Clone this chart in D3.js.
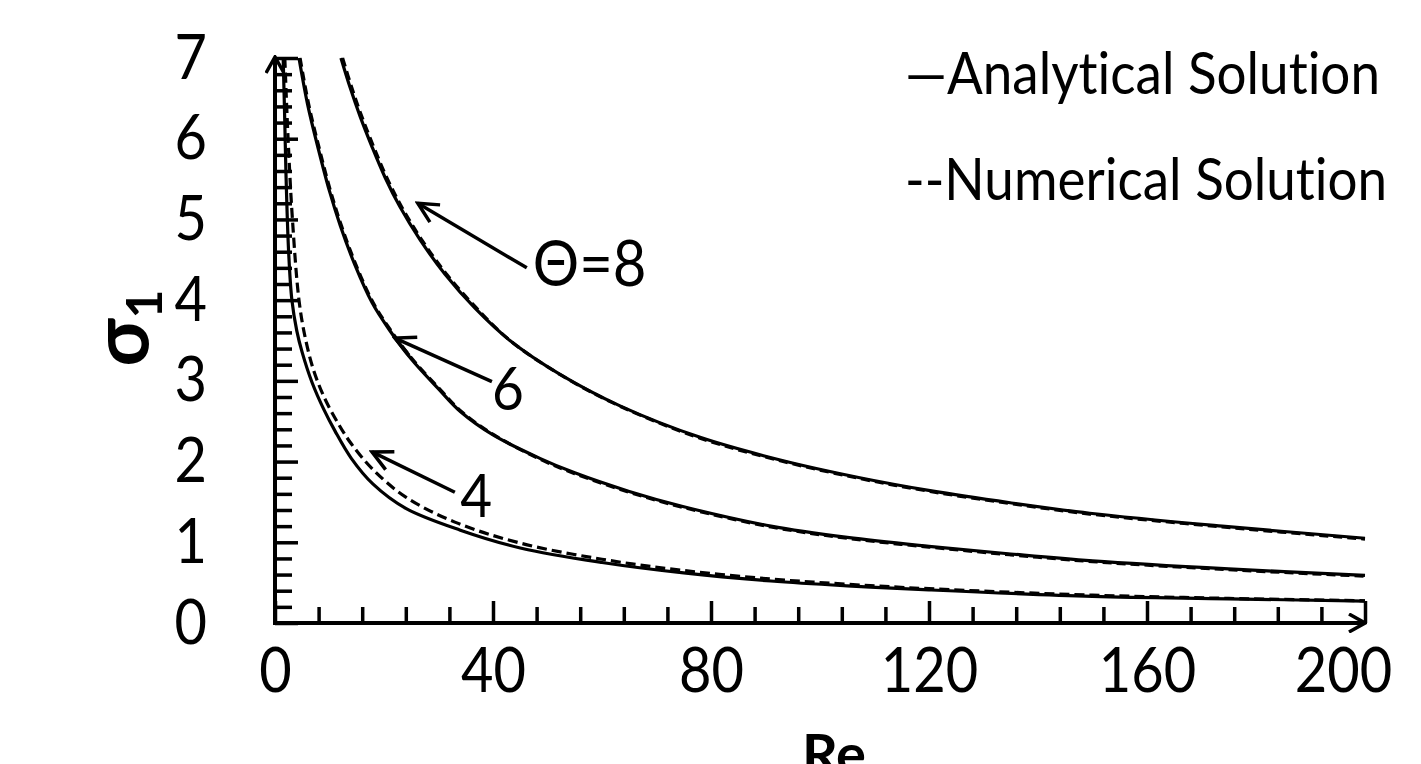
<!DOCTYPE html>
<html>
<head>
<meta charset="utf-8">
<script src="https://cdn.jsdelivr.net/npm/d3@7"></script>
<style>
  body { margin: 0; background: #fff; }
  svg text { font-family: Lato, "Noto Sans", sans-serif; fill: #000; font-variant-ligatures: none; font-feature-settings: "liga" 0; }
  .tall { transform-box: fill-box; transform-origin: center; transform: scaleY(1.1); }
</style>
</head>
<body>
<div id="chart"></div>
<script>
// values: sigma_1 against Re, one pair of series per Theta
var theta8Analytical = [[12.1,7.0],[13.8,6.63],[15.6,6.28],[17.8,5.9],[20.2,5.52],[22.9,5.16],[26.6,4.75],[31.2,4.32],[36.7,3.9],[43.1,3.5],[52.3,3.08],[63.3,2.69],[78,2.3],[92.7,2.02],[107.3,1.8],[120.2,1.64],[134.9,1.49],[149.5,1.36],[173.8,1.2],[200,1.05]];
var theta8Numerical  = [[12.4,7.0],[14.1,6.63],[15.9,6.28],[18.1,5.9],[20.5,5.52],[23.2,5.16],[26.9,4.75],[31.5,4.32],[37,3.9],[43.3,3.49],[52.5,3.07],[63.5,2.68],[78,2.29],[92.7,2.01],[107.3,1.79],[120.2,1.63],[134.9,1.48],[149.5,1.35],[173.8,1.19],[200,1.04]];

var theta6Analytical = [[4.4,7.0],[6,6.42],[8,5.86],[10,5.35],[12,4.92],[14.7,4.43],[17.8,3.97],[21,3.63],[25,3.27],[30,2.9],[34,2.62],[40,2.33],[48.6,2.04],[55,1.86],[65,1.63],[75,1.44],[91,1.2],[105,1.06],[120,0.95],[135,0.855],[150,0.77],[175,0.67],[200,0.59]];
var theta6Numerical  = [[4.6,7.0],[6.2,6.42],[8.2,5.86],[10.2,5.35],[12.2,4.92],[14.9,4.43],[18,3.97],[21.2,3.63],[25.2,3.27],[30.2,2.9],[34.2,2.62],[40.2,2.33],[48.6,2.03],[55,1.85],[65,1.62],[75,1.43],[91,1.19],[105,1.05],[120,0.94],[135,0.845],[150,0.76],[175,0.66],[200,0.58]];

var theta4Analytical = [[1.5,7.0],[1.8,6.2],[2.0,5.6],[2.5,4.6],[3.1,4.0],[4,3.62],[5,3.35],[6.8,2.98],[9,2.64],[11,2.38],[14,2.04],[18,1.72],[24,1.42],[34,1.15],[45,0.93],[60,0.75],[75,0.62],[91,0.52],[105,0.46],[120,0.41],[150,0.33],[175,0.3],[200,0.27]];
var theta4Numerical  = [[1.8,7.0],[2.4,6.0],[3.2,5.0],[4.4,4.0],[5.5,3.55],[7,3.15],[9,2.8],[11.7,2.46],[14,2.22],[18,1.9],[24,1.56],[33,1.25],[45,0.99],[60,0.79],[75,0.65],[91,0.545],[105,0.48],[120,0.425],[150,0.345],[175,0.305],[200,0.275]];

var xMajorTicks = [0, 40, 80, 120, 160, 200];
var xMinorTicks = [8,16,24,32,48,56,64,72,88,96,104,112,128,136,144,152,168,176,184,192];
var yMajorTicks = [0, 1, 2, 3, 4, 5, 6, 7];
var yMinorTicks = d3.range(1, 35).map(function(i){ return i / 5; }).filter(function(v){ return Math.abs(v - Math.round(v)) > 1e-6; });

var legendLabels = ["\u2014Analytical Solution", "--Numerical Solution"];
var thetaLabels = ["\u0398=8", "6", "4"];

var width = 1421, height = 764;

var svg = d3.select("#chart").append("svg")
    .attr("width", width)
    .attr("height", height);

var defs = svg.append("defs");

var x = d3.scaleLinear().domain([0, 200]).range([275, 1365]);
var y = d3.scaleLinear().domain([0, 7]).range([623, 58]);

//minor ticks, no labels
svg.append("g")
    .attr("transform", "translate(0," + y(0) + ")")
    .call(d3.axisBottom(x).tickValues(xMinorTicks).tickSize(-16).tickFormat(""))
    .call(function(g){ g.select(".domain").remove(); })
    .selectAll("line").attr("stroke", "#000").attr("stroke-width", 3.5);

svg.append("g")
    .attr("transform", "translate(" + x(0) + ",0)")
    .call(d3.axisLeft(y).tickValues(yMinorTicks).tickSize(-17).tickFormat(""))
    .call(function(g){ g.select(".domain").remove(); })
    .selectAll("line").attr("stroke", "#000").attr("stroke-width", 3.5);

//major ticks with labels
var xAxis = svg.append("g")
    .attr("transform", "translate(0," + y(0) + ")")
    .call(d3.axisBottom(x).tickValues(xMajorTicks).tickSize(-22).tickPadding(27).tickFormat(d3.format("d")));
xAxis.select(".domain").remove();
xAxis.selectAll("line").attr("stroke", "#000").attr("stroke-width", 3.5);
xAxis.selectAll("text")
    .attr("font-size", 56)
    .attr("font-family", null)
    .attr("class", "tall")
    .attr("dx", function(d){ return d === 200 ? -22 : 0; });

var yAxis = svg.append("g")
    .attr("transform", "translate(" + x(0) + ",0)")
    .call(d3.axisLeft(y).tickValues(yMajorTicks).tickSize(-23).tickPadding(68).tickFormat(d3.format("d")));
yAxis.select(".domain").remove();
yAxis.selectAll("line").attr("stroke", "#000").attr("stroke-width", 3.5);
yAxis.selectAll("text").attr("font-size", 56).attr("font-family", null).attr("class", "tall");

//curves
var line = d3.line()
    .x(function(d){ return x(d[0]); })
    .y(function(d){ return y(d[1]); })
    .curve(d3.curveCatmullRom.alpha(0.5));

var series = [
    {data: theta8Analytical, dash: null},
    {data: theta8Numerical, dash: "9,5"},
    {data: theta6Analytical, dash: null},
    {data: theta6Numerical, dash: "9,5"},
    {data: theta4Analytical, dash: null},
    {data: theta4Numerical, dash: "10,5"}
];

svg.selectAll(".curve")
    .data(series)
    .enter().append("path")
    .attr("class", "curve")
    .attr("d", function(d){ return line(d.data); })
    .attr("fill", "none")
    .attr("stroke", "#000")
    .attr("stroke-width", 3.2)
    .attr("stroke-dasharray", function(d){ return d.dash; });

//axis lines with open arrow heads
defs.append("marker")
    .attr("id", "arrow")
    .attr("viewBox", "0 0 20 20")
    .attr("refX", 18).attr("refY", 10)
    .attr("markerWidth", 20).attr("markerHeight", 20)
    .attr("markerUnits", "userSpaceOnUse")
    .attr("orient", "auto")
    .append("path")
    .attr("d", "M2,1 L18,10 L2,19")
    .attr("fill", "none")
    .attr("stroke", "#000")
    .attr("stroke-width", 3.5);

svg.append("line")
    .attr("x1", x(0)).attr("y1", y(0))
    .attr("x2", x(200)).attr("y2", y(0))
    .attr("stroke", "#000").attr("stroke-width", 4)
    .attr("marker-end", "url(#arrow)");

svg.append("line")
    .attr("x1", x(0)).attr("y1", y(0) + 2)
    .attr("x2", x(0)).attr("y2", y(7) - 1)
    .attr("stroke", "#000").attr("stroke-width", 4)
    .attr("marker-end", "url(#arrow)");

//annotations for Theta
var annotations = [
    {label: thetaLabels[0], tip: [26.2, 5.2], tail: [46.2, 4.4], at: [47.3, 4.2]},
    {label: thetaLabels[1], tip: [22.0, 3.53], tail: [39.8, 2.99], at: [39.8, 2.66]},
    {label: thetaLabels[2], tip: [17.8, 2.12], tail: [33.0, 1.62], at: [34.0, 1.34]}
];

defs.append("marker")
    .attr("id", "annot")
    .attr("viewBox", "0 0 26 26")
    .attr("refX", 3).attr("refY", 13)
    .attr("markerWidth", 26).attr("markerHeight", 26)
    .attr("markerUnits", "userSpaceOnUse")
    .attr("orient", "auto")
    .append("path")
    .attr("d", "M23,3 L3,13 L23,23")
    .attr("fill", "none")
    .attr("stroke", "#000")
    .attr("stroke-width", 3.5);

svg.selectAll(".annot-line")
    .data(annotations)
    .enter().append("line")
    .attr("class", "annot-line")
    .attr("x1", function(d){ return x(d.tip[0]); })
    .attr("y1", function(d){ return y(d.tip[1]); })
    .attr("x2", function(d){ return x(d.tail[0]); })
    .attr("y2", function(d){ return y(d.tail[1]); })
    .attr("stroke", "#000")
    .attr("stroke-width", 3.5)
    .attr("marker-start", "url(#annot)");

svg.selectAll(".annot-text")
    .data(annotations)
    .enter().append("text")
    .attr("class", "annot-text tall")
    .attr("x", function(d){ return x(d.at[0]); })
    .attr("y", function(d){ return y(d.at[1]); })
    .attr("font-size", function(d, i){ return i === 0 ? 58 : 55; })
    .text(function(d){ return d.label; });

//legend, written as text like the original
svg.selectAll(".legend")
    .data(legendLabels)
    .enter().append("text")
    .attr("class", "legend tall")
    .attr("x", 905)
    .attr("y", function(d, i){ return 92 + i * 106; })
    .attr("font-size", 53)
    .text(function(d){ return d; });

//axis titles
svg.append("text")
    .attr("x", 834)
    .attr("y", 774)
    .attr("text-anchor", "middle")
    .attr("font-size", 56)
    .attr("font-weight", "bold")
    .text("Re");

var yTitle = svg.append("text")
    .attr("transform", "translate(148,328) rotate(-90)")
    .attr("text-anchor", "middle")
    .attr("font-size", 78)
    .attr("font-weight", "bold");
yTitle.append("tspan").text("\u03c3");
yTitle.append("tspan").attr("dy", 14).attr("font-size", 50).text("1");
</script>
</body>
</html>
